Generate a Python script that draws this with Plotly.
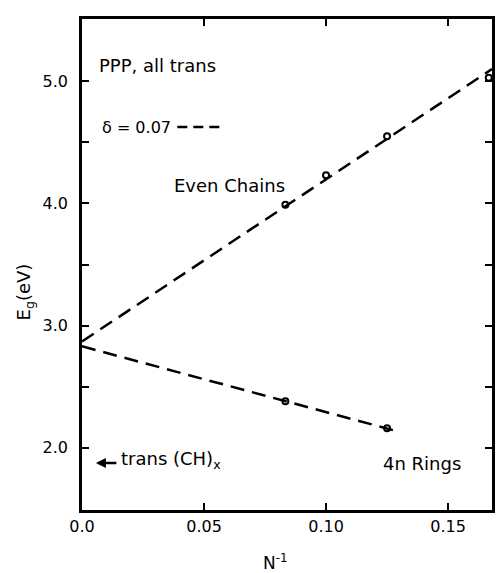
import plotly.graph_objects as go

# ---- data ----
even_x = [1/12, 1/10, 1/8, 1/6]          # N^-1 for even chains
even_y = [3.99, 4.23, 4.55, 5.03]        # Eg (eV)
even_fit_x = [0.0, 0.168]
even_fit_y = [2.87, 5.10]

ring_x = [1/12, 1/8]                      # 4n rings
ring_y = [2.38, 2.16]
ring_fit_x = [0.0, 0.130]
ring_fit_y = [2.83, 2.13]

x_ticks = [0.0, 0.05, 0.10, 0.15]
x_labels = ["0.0", "0.05", "0.10", "0.15"]
y_ticks = [2.0, 3.0, 4.0, 5.0]
y_labels = ["2.0", "3.0", "4.0", "5.0"]
y_minor = [2.5, 3.5, 4.5]

W, H = 500, 573
L, R, T, B = 82, 5, 19, 63
PW, PH = W - L - R, H - T - B

def pxp(x):
    return (x - L) / PW

def pyp(y):
    return (H - B - y) / PH

FONT = "DejaVu Sans"
dash = "14px,8px"

fig = go.Figure()
fig.add_trace(go.Scatter(x=even_fit_x, y=even_fit_y, mode="lines",
                         line=dict(color="black", width=2.5, dash=dash),
                         showlegend=False, hoverinfo="skip"))
fig.add_trace(go.Scatter(x=ring_fit_x, y=ring_fit_y, mode="lines",
                         line=dict(color="black", width=2.5, dash=dash),
                         showlegend=False, hoverinfo="skip"))
fig.add_trace(go.Scatter(x=even_x, y=even_y, mode="markers",
                         marker=dict(symbol="circle-open", size=6, color="black",
                                     line=dict(width=2, color="black")),
                         showlegend=False))
fig.add_trace(go.Scatter(x=ring_x, y=ring_y, mode="markers",
                         marker=dict(symbol="circle-open", size=6, color="black",
                                     line=dict(width=2, color="black")),
                         showlegend=False))

ann_font = dict(family=FONT, size=18, color="black")
annotations = [
    dict(text="PPP, all trans", x=pxp(97), y=pyp(66), xanchor="left", yanchor="middle"),
    dict(text="δ = 0.07", x=pxp(100), y=pyp(127), xanchor="left", yanchor="middle",
         font=dict(family=FONT, size=16, color="black")),
    dict(text="Even Chains", x=pxp(173), y=pyp(186), xanchor="left", yanchor="middle"),
    dict(text="4n Rings", x=pxp(383), y=pyp(463), xanchor="left", yanchor="middle"),
    dict(text="trans (CH)<sub>x</sub>", x=pxp(119), y=pyp(460), xanchor="left", yanchor="middle"),
    dict(text="E<sub>g</sub>(eV)", x=pxp(25), y=pyp(292), xanchor="center", yanchor="middle",
         textangle=-90, font=dict(family=FONT, size=18, color="black")),
    dict(text="N<sup>-1</sup>", x=pxp(277), y=pyp(562), xanchor="center", yanchor="middle",
         font=dict(family=FONT, size=17, color="black")),
]
for a in annotations:
    a.setdefault("font", ann_font)
    a.update(xref="paper", yref="paper", showarrow=False)
    fig.add_annotation(**a)

# arrow pointing at the trans-(CH)x gap
fig.add_annotation(xref="paper", yref="paper", x=pxp(96), y=pyp(463),
                   ax=22, ay=0, axref="pixel", ayref="pixel",
                   text="", showarrow=True, arrowhead=2, arrowsize=0.8, arrowwidth=2.5,
                   standoff=0, startstandoff=0, arrowcolor="black")

# legend key dash for delta = 0.07
fig.add_shape(type="line", xref="paper", yref="paper",
              x0=pxp(178), x1=pxp(222), y0=pyp(127), y1=pyp(127),
              line=dict(color="black", width=2.5, dash="10px,6px"))

axis_common = dict(showline=True, linecolor="black", linewidth=2.5, mirror="ticks",
                   ticks="inside", ticklen=7, tickwidth=2, tickcolor="black",
                   showgrid=False, zeroline=False,
                   tickfont=dict(family=FONT, size=16, color="black"))

fig.update_xaxes(range=[0, 0.168], tickvals=x_ticks, ticktext=x_labels,
                 ticklabelstandoff=0, **axis_common)
fig.update_yaxes(range=[1.49, 5.51], tickvals=y_ticks, ticktext=y_labels,
                 ticklabelstandoff=8,
                 minor=dict(tickvals=y_minor, ticks="inside", ticklen=7,
                            tickwidth=2, tickcolor="black", showgrid=False),
                 **axis_common)

fig.update_layout(width=W, height=H, margin=dict(l=L, r=R, t=T, b=B),
                  paper_bgcolor="white", plot_bgcolor="white",
                  font=dict(family=FONT, color="black"))

fig.write_html("out.html")
